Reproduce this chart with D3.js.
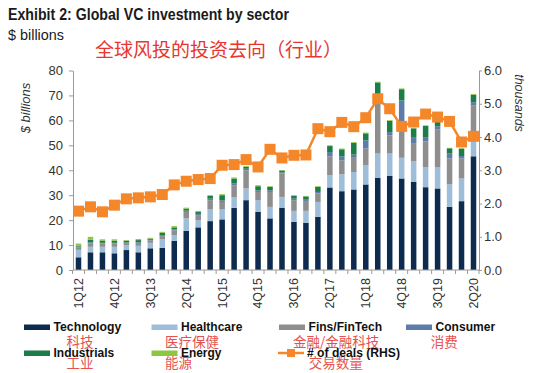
<!DOCTYPE html>
<html>
<head>
<meta charset="utf-8">
<script src="https://cdn.jsdelivr.net/npm/d3@7"></script>
<style>
  body { margin: 0; background: #fff; }
  svg { display: block; font-family: "Liberation Sans", Arial, sans-serif; }
</style>
</head>
<body>
<div id="chart"></div>
<script>
var quarters = ['1Q12','2Q12','3Q12','4Q12','1Q13','2Q13','3Q13','4Q13','1Q14','2Q14','3Q14','4Q14',
                '1Q15','2Q15','3Q15','4Q15','1Q16','2Q16','3Q16','4Q16','1Q17','2Q17','3Q17','4Q17',
                '1Q18','2Q18','3Q18','4Q18','1Q19','2Q19','3Q19','4Q19','1Q20','2Q20'];
var shownLabels = ['1Q12','4Q12','3Q13','2Q14','1Q15','4Q15','3Q16','2Q17','1Q18','4Q18','3Q19','2Q20'];

var technology  = [5.1,7.1,7.1,6.7,8.0,7.1,8.7,8.9,11.7,15.7,17.1,19.6,20.3,24.9,28.0,23.3,20.7,25.0,19.3,18.9,21.3,33.1,31.6,32.3,34.3,36.9,37.7,36.7,35.3,33.2,32.7,25.3,27.6,45.6];
var healthcare  = [3.0,2.2,2.2,2.6,2.0,2.6,2.2,3.4,2.3,5.0,2.9,4.7,4.0,4.2,4.7,4.7,4.6,4.3,4.4,4.8,6.0,4.9,6.8,7.0,7.7,9.8,9.0,8.3,8.4,8.1,8.6,9.1,9.1,8.0];
var fins        = [1.0,1.4,1.3,1.3,0.8,1.2,1.0,1.3,1.8,2.6,2.0,3.7,3.0,4.9,7.3,3.3,6.0,9.4,4.3,4.0,3.4,7.6,5.6,6.0,6.7,20.5,7.3,11.0,7.2,10.3,15.0,10.3,8.0,12.5];
var consumer    = [0.3,0.4,0.3,0.3,0.3,0.3,0.2,0.3,0.5,0.5,0.5,0.6,0.6,0.8,0.6,0.6,0.7,0.4,0.6,0.5,0.6,1.7,1.6,1.0,3.3,3.0,1.3,12.0,2.4,1.7,1.3,2.0,1.0,1.2];
var industrials = [0.4,1.0,0.9,0.9,0.6,0.8,0.5,1.1,0.8,0.8,0.8,1.1,2.1,1.9,0.8,1.7,1.3,0.8,1.2,1.3,2.0,2.4,2.8,4.7,2.8,5.0,4.5,4.5,3.5,4.5,2.0,2.1,3.0,3.0];
var energy      = [0.8,1.2,0.5,0.5,0.3,0.4,0.3,0.3,0.5,0.4,0.4,0.3,0.4,0.4,0.3,0.4,0.3,0.2,0.2,0.2,0.3,0.3,0.3,0.3,0.3,0.3,0.3,0.3,0.2,0.2,0.2,0.2,0.2,0.3];
var deals       = [1.77,1.9,1.75,1.95,2.14,2.17,2.2,2.27,2.56,2.67,2.72,2.75,3.15,3.17,3.32,3.1,3.63,3.37,3.45,3.46,4.25,4.16,4.44,4.31,4.58,5.15,4.85,4.32,4.45,4.69,4.6,4.47,3.85,4.02];

var seriesNames = ['Technology','Healthcare','Fins/FinTech','Consumer','Industrials','Energy'];
var seriesCn    = ['科技','医疗保健','金融/金融科技','消费','工业','能源'];
var seriesData  = [technology, healthcare, fins, consumer, industrials, energy];
var colors      = ['#0c2b4e','#9dbdd9','#8e8e8e','#5d7ca9','#1b7d48','#8dc63f'];
var orange = '#f4872a';

var W = 550, H = 373;
var plotLeft = 73, plotRight = 479, plotTop = 70.5, plotBottom = 270;

var svg = d3.select('#chart').append('svg').attr('width', W).attr('height', H);

// titles
svg.append('text').attr('x', 8).attr('y', 20).text('Exhibit 2: Global VC investment by sector')
    .style('font-size', '17px').style('font-weight', 'bold').style('fill', '#1a1a1a')
    .attr('textLength', 281).attr('lengthAdjust', 'spacingAndGlyphs');
svg.append('text').attr('x', 8).attr('y', 39.5).text('$ billions')
    .style('font-size', '15px').style('fill', '#1a1a1a')
    .attr('textLength', 56).attr('lengthAdjust', 'spacingAndGlyphs');
svg.append('text').attr('x', 95).attr('y', 57).text('全球风投的投资去向（行业）')
    .style('font-family', '"Noto Sans CJK SC", sans-serif')
    .style('font-size', '19px').style('fill', '#e8352f')
    .attr('textLength', 247).attr('lengthAdjust', 'spacingAndGlyphs');

// scales
var x = d3.scaleBand().domain(quarters).range([plotLeft, plotRight]).paddingInner(0.54).paddingOuter(0.23);
var y = d3.scaleLinear().domain([0, 80]).range([plotBottom, plotTop]);
var y2 = d3.scaleLinear().domain([0, 6]).range([plotBottom, plotTop]);

// stacked bars
var rows = quarters.map(function (q, i) {
    var r = {q: q};
    seriesNames.forEach(function (s, j) { r[s] = seriesData[j][i]; });
    return r;
});
var stacked = d3.stack().keys(seriesNames)(rows);

svg.append('g').selectAll('g').data(stacked).enter().append('g')
    .style('fill', function (d, i) { return colors[i]; })
    .selectAll('rect').data(function (d) { return d; }).enter().append('rect')
    .attr('x', function (d) { return x(d.data.q); })
    .attr('y', function (d) { return y(d[1]); })
    .attr('width', x.bandwidth())
    .attr('height', function (d) { return y(d[0]) - y(d[1]); });

// axes
var axisColor = '#9a9a9a';
var gl = svg.append('g').attr('transform', 'translate(' + plotLeft + ',0)')
    .call(d3.axisLeft(y).tickValues(d3.range(0, 81, 10)).tickSize(4).tickPadding(6).tickSizeOuter(0));
var gr = svg.append('g').attr('transform', 'translate(' + plotRight + ',0)')
    .call(d3.axisRight(y2).tickValues(d3.range(0, 6.01, 1)).tickFormat(d3.format('.1f')).tickSize(3).tickPadding(2).tickSizeOuter(0));
[gl, gr].forEach(function (g) {
    g.select('.domain').attr('stroke', axisColor);
    g.selectAll('.tick line').attr('stroke', axisColor);
    g.selectAll('.tick text').style('font-size', '13px').style('fill', '#333')
        .style('font-family', '"Liberation Sans", Arial, sans-serif');
});

// x axis
svg.append('line').attr('x1', plotLeft).attr('x2', plotRight).attr('y1', plotBottom).attr('y2', plotBottom)
    .attr('stroke', axisColor);
var gap = x.step() - x.bandwidth();
svg.append('g').selectAll('line').data(quarters).enter().append('line')
    .attr('x1', function (d) { return x(d) - gap / 2; })
    .attr('x2', function (d) { return x(d) - gap / 2; })
    .attr('y1', plotBottom).attr('y2', plotBottom + 4).attr('stroke', axisColor);
svg.append('line').attr('x1', plotRight).attr('x2', plotRight).attr('y1', plotBottom).attr('y2', plotBottom + 4).attr('stroke', axisColor);
svg.append('g').selectAll('text').data(shownLabels).enter().append('text')
    .attr('transform', function (d) { return 'translate(' + (x(d) + x.bandwidth() / 2) + ',' + (plotBottom + 8) + ') rotate(-90)'; })
    .attr('dy', '0.35em').attr('text-anchor', 'end')
    .style('font-size', '12.5px').style('fill', '#333').text(function (d) { return d; });

// axis titles
svg.append('text').attr('transform', 'translate(30,108) rotate(-90)').attr('text-anchor', 'middle')
    .style('font-size', '13px').style('font-style', 'italic').style('fill', '#333').text('$ billions');
svg.append('text').attr('transform', 'translate(515,103) rotate(90)').attr('text-anchor', 'middle')
    .style('font-size', '12.5px').style('font-style', 'italic').style('fill', '#333').text('thousands');

// deals line
var cx = function (d, i) { return x(quarters[i]) + x.bandwidth() / 2; };
svg.append('path').datum(deals)
    .attr('d', d3.line().x(cx).y(function (d) { return y2(d); }))
    .attr('fill', 'none').attr('stroke', orange).attr('stroke-width', 2.5);
svg.append('g').selectAll('rect').data(deals).enter().append('rect')
    .attr('x', function (d, i) { return cx(d, i) - 5.5; })
    .attr('y', function (d) { return y2(d) - 5.5; })
    .attr('width', 11).attr('height', 11).style('fill', orange);

// legend
var legendX = [24, 151.5, 279, 406, 24, 151.5];
var legendRow = [0, 0, 0, 0, 1, 1];
var legendLen = [67.7, 61.4, 73.6, 59.6, 60.7, 40.4];
var cnX = [66.6, 165, 293, 430.7, 66.6, 165];
var rowY = [331, 357];
var cnY = [346.5, 368];
var cnRed = '#e5514f';

var lg = svg.append('g');
seriesNames.forEach(function (s, i) {
    var ry = rowY[legendRow[i]];
    lg.append('rect').attr('x', legendX[i]).attr('y', ry - 6.5).attr('width', 26).attr('height', 5.5).style('fill', colors[i]);
    lg.append('text').attr('x', cnX[i]).attr('y', cnY[legendRow[i]]).text(seriesCn[i])
        .style('font-family', '"Noto Sans CJK SC", sans-serif').style('font-size', '13.5px').style('fill', cnRed);
    lg.append('text').attr('x', legendX[i] + 29.5).attr('y', ry).text(s)
        .style('font-size', '13px').style('font-weight', 'bold').style('fill', '#111')
        .attr('textLength', legendLen[i]).attr('lengthAdjust', 'spacingAndGlyphs');
});
lg.append('line').attr('x1', 278).attr('x2', 304).attr('y1', rowY[1] - 4).attr('y2', rowY[1] - 4)
    .attr('stroke', orange).attr('stroke-width', 2.5);
lg.append('rect').attr('x', 287).attr('y', rowY[1] - 8).attr('width', 8).attr('height', 8).style('fill', orange);
lg.append('text').attr('x', 308.7).attr('y', cnY[1]).text('交易数量')
    .style('font-family', '"Noto Sans CJK SC", sans-serif').style('font-size', '13.5px').style('fill', cnRed);
lg.append('text').attr('x', 307).attr('y', rowY[1]).text('# of deals (RHS)')
    .style('font-size', '13px').style('font-weight', 'bold').style('fill', '#111')
    .attr('textLength', 93).attr('lengthAdjust', 'spacingAndGlyphs');
</script>
</body>
</html>
